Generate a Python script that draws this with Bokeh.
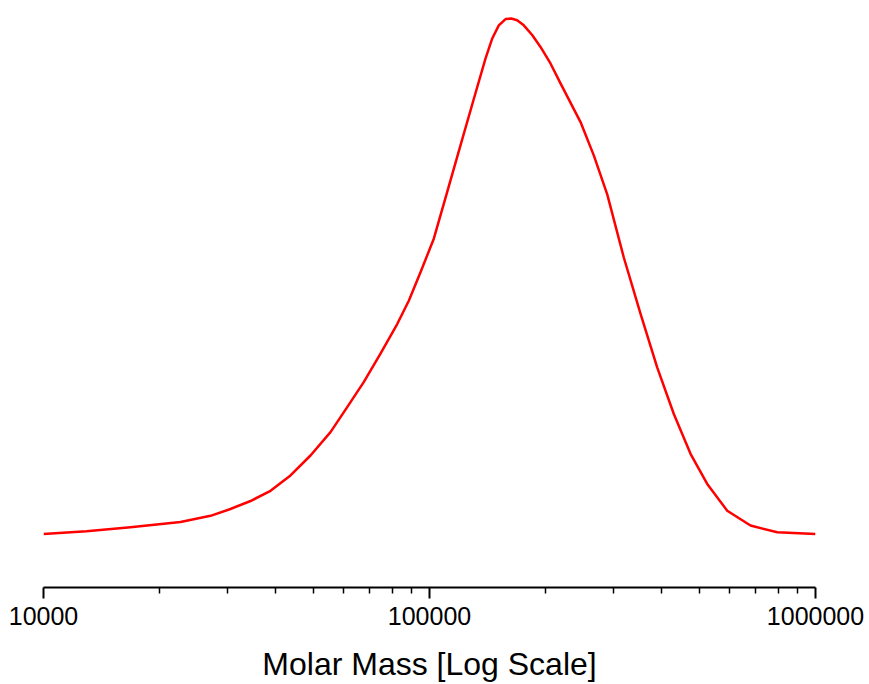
from bokeh.plotting import figure
from bokeh.models import Range1d, FixedTicker, BasicTickFormatter
from bokeh.embed import file_html
from bokeh.resources import INLINE

# Molar mass (g/mol) and relative detector response
molar_mass = [10000, 12920, 16800, 22640, 27080, 30510, 34390, 38740, 43640,
              49170, 55400, 61210, 67550, 74650, 82480, 88390, 94780, 102600,
              111100, 120300, 130300, 139700, 145400, 151200, 157400, 162800,
              168700, 175500, 184500, 193900, 205800, 218500, 246200, 266600,
              288700, 318700, 352200, 388900, 429500, 474500, 524200, 590600,
              678700, 795800, 1000000]
response = [0.094, 0.099, 0.106, 0.115, 0.126, 0.138, 0.152, 0.170, 0.197,
            0.232, 0.273, 0.317, 0.361, 0.411, 0.463, 0.504, 0.554, 0.613,
            0.695, 0.777, 0.859, 0.930, 0.965, 0.988, 0.999, 1.000,
            0.997, 0.988, 0.971, 0.950, 0.921, 0.886, 0.818, 0.759,
            0.691, 0.580, 0.481, 0.387, 0.305, 0.235, 0.182, 0.135,
            0.109, 0.097, 0.094]

major_ticks = [10000, 100000, 1000000]
minor_ticks = [20000, 30000, 40000, 50000, 60000, 70000, 80000, 90000,
               200000, 300000, 400000, 500000, 600000, 700000, 800000, 900000]
x_label = "Molar Mass [Log Scale]"

p = figure(width=866, height=684, x_axis_type="log",
           x_range=Range1d(10000, 1000000), y_range=Range1d(0, 1.0141),
           y_axis_location=None, output_backend="svg", toolbar_location=None,
           min_border_left=43, min_border_right=51, min_border_top=10,
           min_border_bottom=97)
p.outline_line_color = None
p.grid.visible = False

p.line(molar_mass, response, line_color="#ff0000", line_width=2.5,
       line_join="round")

ax = p.xaxis[0]
ax.ticker = FixedTicker(ticks=major_ticks, minor_ticks=minor_ticks)
ax.formatter = BasicTickFormatter(use_scientific=False)
ax.axis_label = x_label
ax.axis_line_width = 2
ax.axis_line_color = "black"
ax.major_tick_line_width = 2
ax.major_tick_line_color = "black"
ax.minor_tick_line_width = 1.5
ax.minor_tick_line_color = "black"
ax.major_tick_in = 0
ax.major_tick_out = 11
ax.minor_tick_in = 0
ax.minor_tick_out = 6
ax.major_label_text_font = "Liberation Sans"
ax.major_label_text_font_size = "25px"
ax.major_label_text_color = "black"
ax.major_label_standoff = 8
ax.axis_label_text_font = "Liberation Sans"
ax.axis_label_text_font_size = "32px"
ax.axis_label_text_font_style = "normal"
ax.axis_label_text_color = "black"
ax.axis_label_standoff = 18

open("out.html", "w").write(file_html(p, INLINE))
